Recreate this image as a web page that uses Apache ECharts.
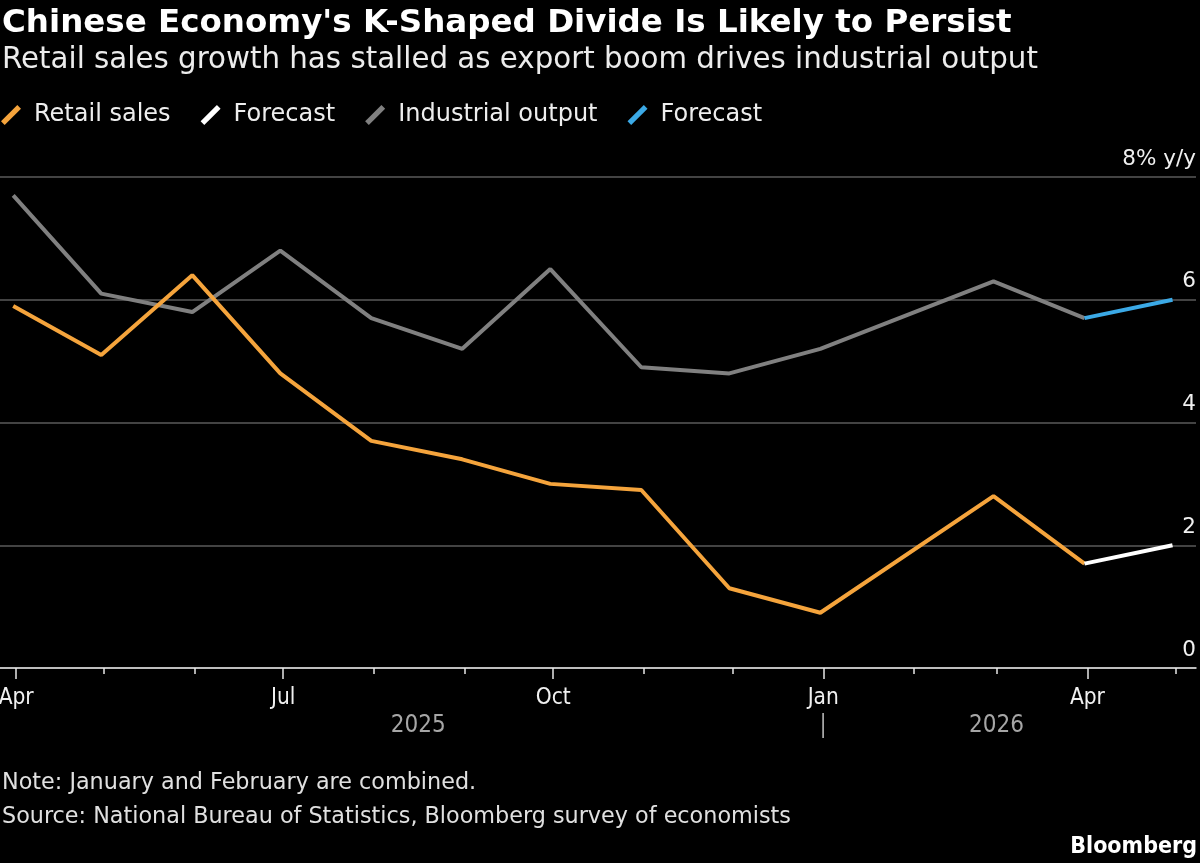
<!DOCTYPE html>
<html>
<head>
<meta charset="utf-8">
<script src="https://cdn.jsdelivr.net/npm/echarts@6/dist/echarts.min.js"></script>
<style>
html,body{margin:0;padding:0;background:#000;}
#chart{width:1200px;height:863px;}
</style>
</head>
<body>
<div id="chart"></div>
<script>
// Data (month-end observation dates)
const obsDates = ['2025-03-31','2025-04-30','2025-05-31','2025-06-30','2025-07-31','2025-08-31','2025-09-30','2025-10-31','2025-11-30','2025-12-31','2026-02-28','2026-03-31'];
const retailSales = [5.9, 5.1, 6.4, 4.8, 3.7, 3.4, 3.0, 2.9, 1.3, 0.9, 2.8, 1.7];
const industrialOutput = [7.7, 6.1, 5.8, 6.8, 5.7, 5.2, 6.5, 4.9, 4.8, 5.2, 6.3, 5.7];
const forecastDates = ['2026-03-31', '2026-04-30'];
const retailForecast = [1.7, 2.0];
const industrialForecast = [5.7, 6.0];
const monthTicks = ['2025-04-01','2025-05-01','2025-06-01','2025-07-01','2025-08-01','2025-09-01','2025-10-01','2025-11-01','2025-12-01','2026-01-01','2026-02-01','2026-03-01','2026-04-01','2026-05-01'];
const majorTicks = ['2025-04-01','2025-07-01','2025-10-01','2026-01-01','2026-04-01'];
const majorLabels = ['Apr','Jul','Oct','Jan','Apr'];
const yearLabelDates = ['2025-08-16','2026-01-01','2026-03-01'];
const yearLabels = ['2025','|','2026'];

const t = s => { const p = s.split('-').map(Number); return Date.UTC(p[0], p[1]-1, p[2]); };
const pairs = (d, v) => d.map((x, i) => [t(x), v[i]]);
const xMin = Date.UTC(2025, 2, 26, 12);
const xMax = Date.UTC(2026, 4, 8);

const FONT = '"DejaVu Sans", sans-serif';
const FONT_C = '"DejaVu Sans Condensed", "DejaVu Sans", sans-serif';
const majorMap = {}; majorTicks.forEach((d, i) => majorMap[t(d)] = majorLabels[i]);
const yearMap = {}; yearLabelDates.forEach((d, i) => yearMap[t(d)] = yearLabels[i]);

const slash = 'path://M0,15.5 L15.5,0 L19,3.5 L3.5,19 Z';

const chart = echarts.init(document.getElementById('chart'));
chart.setOption({
  backgroundColor: '#000',
  animation: false,
  textStyle: { fontFamily: FONT },
  title: [
    { text: "Chinese Economy's K-Shaped Divide Is Likely to Persist", left: -3, top: 2,
      textStyle: { color: '#fff', fontSize: 32.5, fontWeight: 'bold', fontFamily: FONT } },
    { text: 'Retail sales growth has stalled as export boom drives industrial output', left: -3, top: 41,
      textStyle: { color: '#ececec', fontSize: 29.3, fontWeight: 'normal', fontFamily: FONT } },
    { text: 'Note: January and February are combined.', left: -3, top: 767,
      textStyle: { color: '#e0e0e0', fontSize: 22.3, fontWeight: 'normal', fontFamily: FONT } },
    { text: 'Source: National Bureau of Statistics, Bloomberg survey of economists', left: -3, top: 801,
      textStyle: { color: '#e0e0e0', fontSize: 22.3, fontWeight: 'normal', fontFamily: FONT } },
    { text: 'Bloomberg', right: -2, top: 831,
      textStyle: { color: '#fff', fontSize: 23, fontWeight: 'bold', fontFamily: FONT_C } }
  ],
  legend: {
    left: -4, top: 98, itemGap: 30, itemWidth: 20, itemHeight: 20, icon: slash,
    data: ['Retail sales', 'Retail forecast', 'Industrial output', 'Industrial forecast'],
    formatter: n => (n.indexOf('forecast') >= 0 ? 'Forecast' : n),
    textStyle: { color: '#eeeeee', fontSize: 24, fontFamily: FONT, padding: [0, 0, 0, 8] }
  },
  grid: { left: 0, right: 4, top: 177, bottom: 195, outerBoundsMode: 'none', containLabel: false },
  xAxis: [
    { type: 'value', min: xMin, max: xMax, position: 'bottom',
      axisLine: { show: true, lineStyle: { color: '#e6e6e6', width: 1.5 } },
      axisTick: { show: true, customValues: monthTicks.map(t), length: 6, lineStyle: { color: '#e6e6e6', width: 1.5 } },
      axisLabel: { show: false }, splitLine: { show: false } },
    { type: 'value', min: xMin, max: xMax, position: 'bottom',
      axisLine: { show: false },
      axisTick: { show: true, customValues: majorTicks.map(t), length: 11, lineStyle: { color: '#e6e6e6', width: 1.5 } },
      axisLabel: { show: true, customValues: majorTicks.map(t), margin: 19, color: '#f0f0f0', fontSize: 22.5, fontFamily: FONT_C,
        formatter: v => majorMap[v] || '' },
      splitLine: { show: false } },
    { type: 'value', min: xMin, max: xMax, position: 'bottom', offset: 30,
      axisLine: { show: false }, axisTick: { show: false },
      axisLabel: { show: true, customValues: yearLabelDates.map(t), margin: 16, color: '#a6a6a6', fontSize: 24, fontFamily: FONT_C,
        formatter: v => yearMap[v] || '' },
      splitLine: { show: false } }
  ],
  yAxis: {
    type: 'value', min: 0, max: 8, interval: 2, position: 'right',
    axisLine: { show: false }, axisTick: { show: false },
    axisLabel: { inside: true, margin: 0, align: 'right', verticalAlign: 'bottom', padding: [0, 0, 7, 0],
      color: '#f0f0f0', fontSize: 21.5, fontFamily: FONT,
      formatter: v => (v === 8 ? '8% y/y' : String(v)) },
    splitLine: { show: true, lineStyle: { color: '#5a5a5a', width: 1.5 } }
  },
  series: [
    { name: 'Industrial output', type: 'line', xAxisIndex: 0, data: pairs(obsDates, industrialOutput),
      showSymbol: false, symbol: 'none', itemStyle: { color: '#808080' },
      lineStyle: { color: '#808080', width: 4 }, z: 3 },
    { name: 'Industrial forecast', type: 'line', xAxisIndex: 0, data: pairs(forecastDates, industrialForecast),
      showSymbol: false, symbol: 'none', itemStyle: { color: '#3ba9e6' },
      lineStyle: { color: '#3ba9e6', width: 4 }, z: 3 },
    { name: 'Retail sales', type: 'line', xAxisIndex: 0, data: pairs(obsDates, retailSales),
      showSymbol: false, symbol: 'none', itemStyle: { color: '#f5a43c' },
      lineStyle: { color: '#f5a43c', width: 4 }, z: 4 },
    { name: 'Retail forecast', type: 'line', xAxisIndex: 0, data: pairs(forecastDates, retailForecast),
      showSymbol: false, symbol: 'none', itemStyle: { color: '#ffffff' },
      lineStyle: { color: '#ffffff', width: 4 }, z: 4 }
  ]
});
</script>
</body>
</html>
